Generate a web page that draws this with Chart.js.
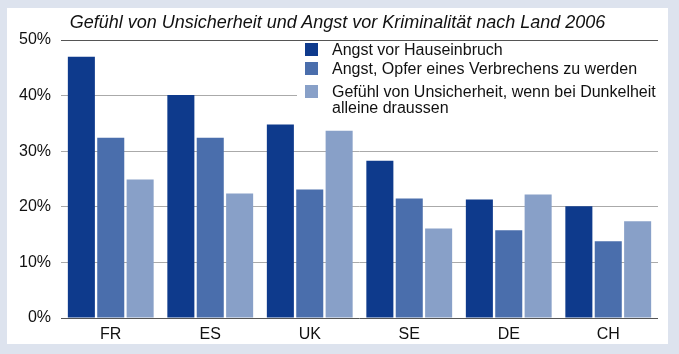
<!DOCTYPE html>
<html>
<head>
<meta charset="utf-8">
<script src="https://cdn.jsdelivr.net/npm/chart.js@4"></script>
<style>
  body { margin: 0; background: #dde3ee; width: 679px; height: 354px; overflow: hidden; font-family: "Liberation Sans", sans-serif; }
  #panel { position: absolute; left: 7px; top: 8px; width: 661px; height: 336px; background: #fff; }
  #title { position: absolute; left: 0; top: 4px; width: 661px; text-align: center; font-style: italic; font-size: 18px; color: #111; }
  #chartWrap { position: absolute; left: 0; top: 0; width: 661px; height: 336px; }
  #legend { position: absolute; left: 290px; top: 34px; width: 361px; height: 72px; background: #fff; }
  .item { position: absolute; left: 8px; font-size: 16px; color: #111; line-height: 16px; white-space: nowrap; }
  .item span.box { position: absolute; left: 0; top: 1px; width: 13px; height: 13px; }
  .item span.txt { display: block; margin-left: 27px; }
</style>
</head>
<body>
<div id="panel">
  <div id="chartWrap"><canvas id="crimeChart" width="661" height="336"></canvas></div>
  <div id="title">Gefühl von Unsicherheit und Angst vor Kriminalität nach Land 2006</div>
  <div id="legend"></div>
</div>
<script>
// Data (percent)
const countries = ['FR', 'ES', 'UK', 'SE', 'DE', 'CH'];
const seriesNames = [
    'Angst vor Hauseinbruch',
    'Angst, Opfer eines Verbrechens zu werden',
    'Gefühl von Unsicherheit, wenn bei Dunkelheit alleine draussen'
];
const burglary = [47.0, 40.1, 34.8, 28.3, 21.3, 20.1];
const victim = [32.4, 32.4, 23.1, 21.5, 15.8, 13.8];
const darkness = [24.9, 22.4, 33.7, 16.1, 22.2, 17.4];
const yTicks = [0, 10, 20, 30, 40, 50];

const colors = ['#0e3a8c', '#4a6eac', '#88a0c8'];
const legendTops = [0, 19, 42];

// Legend (HTML, sits over the gridlines like in the original)
const legendEl = document.getElementById('legend');
seriesNames.forEach((name, i) => {
    const item = document.createElement('div');
    item.className = 'item';
    item.style.top = legendTops[i] + 'px';
    const label = i === 2 ? 'Gefühl von Unsicherheit, wenn bei Dunkelheit<br>alleine draussen' : name;
    item.innerHTML = '<span class="box" style="background:' + colors[i] + '"></span><span class="txt">' + label + '</span>';
    legendEl.appendChild(item);
});

const chartData = {
    labels: countries,
    datasets: [burglary, victim, darkness].map((values, i) => ({
        label: seriesNames[i],
        data: values,
        backgroundColor: colors[i],
        categoryPercentage: 0.886,
        barPercentage: 0.92
    }))
};

const config = {
    type: 'bar',
    data: chartData,
    options: {
        responsive: false,
        animation: false,
        layout: { padding: { top: 32, right: 10, left: 0, bottom: 0 } },
        plugins: {
            legend: { display: false },
            title: { display: false },
            tooltip: { enabled: false }
        },
        scales: {
            x: {
                grid: { display: false, drawTicks: false },
                border: { display: false },
                ticks: {
                    color: '#111',
                    padding: 7,
                    font: { family: 'Liberation Sans', size: 16 }
                },
                afterFit: function (scale) { scale.height = 26; }
            },
            y: {
                min: 0,
                max: 50,
                afterBuildTicks: function (scale) {
                    scale.ticks = yTicks.map(v => ({ value: v }));
                },
                border: { display: false },
                grid: {
                    color: ctx => (ctx.tick && (ctx.tick.value === 0 || ctx.tick.value === 50)) ? '#555' : '#aaa',
                    lineWidth: 1,
                    drawTicks: false
                },
                ticks: {
                    color: '#111',
                    padding: 10,
                    font: { family: 'Liberation Sans', size: 16 },
                    callback: v => v + '%'
                },
                afterFit: function (scale) { scale.width = 54; }
            }
        }
    }
};

const ctx = document.getElementById('crimeChart').getContext('2d');
new Chart(ctx, config);
</script>
</body>
</html>
